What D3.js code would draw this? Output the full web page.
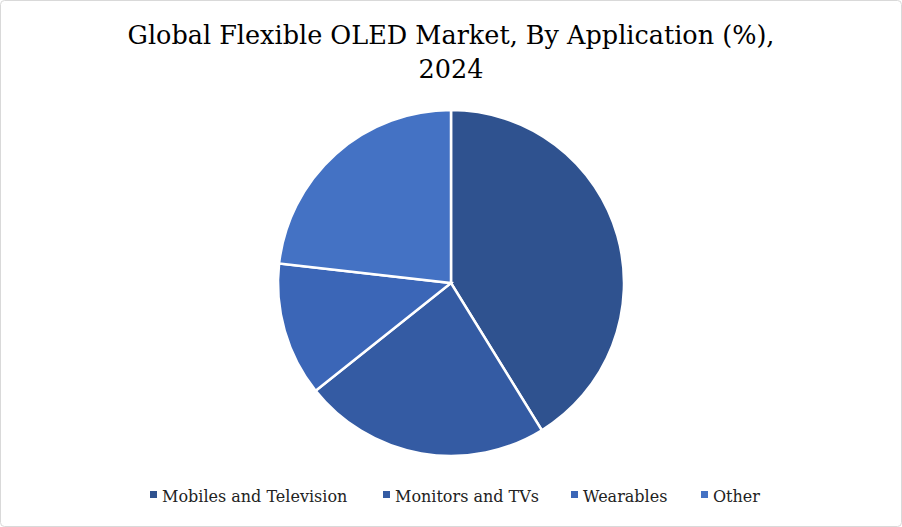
<!DOCTYPE html>
<html lang="en">
<head>
<meta charset="UTF-8">
<script src="https://d3js.org/d3.v7.min.js"></script>
<style>
  body { margin: 0; background: #fff; }
  svg { font-family: "DejaVu Serif", "Liberation Serif", serif; }
</style>
</head>
<body>
<div id="chart"></div>
<script>
const categories = ["Mobiles and Television", "Monitors and TVs", "Wearables", "Other"];
const shares = [41.2, 23.1, 12.5, 23.2];
const colors = ["#2f528f", "#345ba3", "#3b66b7", "#4472c4"];

const width = 902, height = 527;
const svg = d3.select("#chart").append("svg")
    .attr("width", width)
    .attr("height", height);

svg.append("rect")
    .attr("x", 0.5).attr("y", 0.5)
    .attr("width", width - 1).attr("height", height - 1)
    .attr("rx", 4)
    .attr("fill", "#fff")
    .attr("stroke", "#d9d9d9");

svg.append("text")
    .attr("x", width / 2).attr("y", 44)
    .attr("text-anchor", "middle")
    .style("font-size", "25.5px")
    .text("Global Flexible OLED Market, By Application (%),");
svg.append("text")
    .attr("x", width / 2).attr("y", 78)
    .attr("text-anchor", "middle")
    .style("font-size", "25.5px")
    .text("2024");

const pie = d3.pie().value(d => d).sort(null);
const arc = d3.arc().innerRadius(0).outerRadius(173);

const g = svg.append("g").attr("transform", "translate(451,283)");
g.selectAll("path")
    .data(pie(shares))
    .enter().append("path")
    .attr("d", arc)
    .attr("fill", (d, i) => colors[i])
    .attr("stroke", "#fff")
    .attr("stroke-width", 2.5);

// legend
const legendX = [150, 383, 571, 701];
const legend = svg.selectAll(".legend")
    .data(categories)
    .enter().append("g")
    .attr("transform", (d, i) => `translate(${legendX[i]},496)`);
legend.append("rect")
    .attr("x", 0).attr("y", -5)
    .attr("width", 7).attr("height", 7)
    .attr("fill", (d, i) => colors[i]);
legend.append("text")
    .attr("x", 12).attr("y", 0)
    .attr("dy", "0.35em")
    .style("font-size", "16px")
    .attr("fill", "#222")
    .text(d => d);
</script>
</body>
</html>
